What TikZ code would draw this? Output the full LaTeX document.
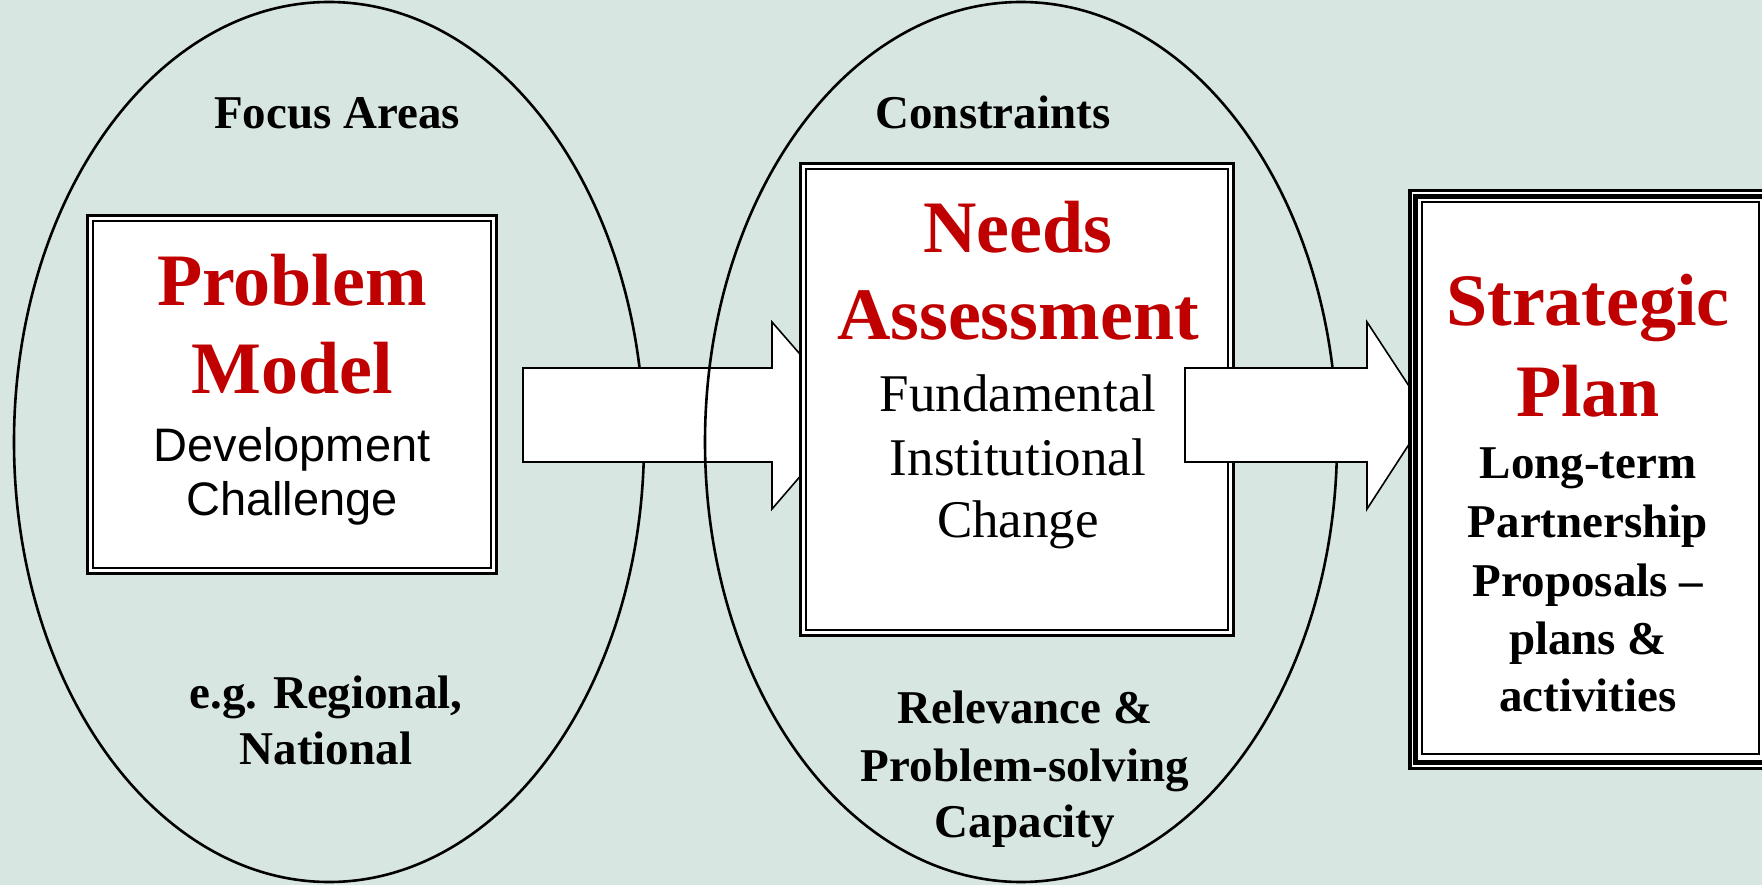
\documentclass[tikz,border=0pt]{standalone}
\usepackage{fontspec}
\setmainfont{Liberation Serif}
\newfontfamily\arialfont{Liberation Sans}
\definecolor{bgc}{HTML}{D7E6E0}
\definecolor{redt}{HTML}{C00000}
\begin{document}
\begin{tikzpicture}[x=1pt,y=-1pt,
  titletxt/.style={anchor=base,inner sep=0pt,text=redt,font=\fontsize{74}{88}\selectfont\bfseries},
  lbltxt/.style={anchor=base,inner sep=0pt,font=\fontsize{47}{57}\selectfont\bfseries},
  subtxt/.style={anchor=base,inner sep=0pt,font=\fontsize{53}{63}\selectfont},
  arialtxt/.style={anchor=base,inner sep=0pt,font=\arialfont\fontsize{47}{54}\selectfont},
  ell/.style={draw=black,line width=2.6pt},
  blockarrow/.style={fill=white,draw=black,line width=1.6pt,line join=miter},
  boxfill/.style={fill=white}]
\useasboundingbox (0,0) rectangle (1762,885);
\fill[bgc] (0,0) rectangle (1762,885);
\begin{scope}
\clip (0,0) rectangle (1762,885);
% ellipse 1
\draw[ell] (329,442) ellipse [x radius=315pt, y radius=440pt];
% arrow 1
\draw[blockarrow] (523,368) -- (772,368) -- (772,322) -- (853,415) -- (772,509) -- (772,462) -- (523,462) -- cycle;
% ellipse 2
\draw[ell] (1021,442) ellipse [x radius=316pt, y radius=440pt];
% box 1
\fill[boxfill] (86,214) rectangle (498,575);
\draw[line width=3pt] (87.5,215.5) rectangle (496.5,573.5);
\draw[line width=2pt] (93,221) rectangle (491,568);
% box 2
\fill[boxfill] (799,162) rectangle (1235,637);
\draw[line width=3pt] (800.5,163.5) rectangle (1233.5,635.5);
\draw[line width=2pt] (806,169) rectangle (1228,630);
% arrow 2
\draw[blockarrow] (1185,368) -- (1367,368) -- (1367,322) -- (1428,415) -- (1367,509) -- (1367,462) -- (1185,462) -- cycle;
% box 3
\fill[boxfill] (1408,189) rectangle (1775,770);
\draw[line width=3.5pt] (1409.75,190.75) rectangle (1775,768.25);
\draw[line width=4.5pt] (1415.5,196.5) rectangle (1767,762.5);
\draw[line width=2pt] (1421.5,202.5) rectangle (1759,754);
\end{scope}
% texts
\node[lbltxt] (fa) at (337,129) {Focus Areas};
\node[lbltxt] (cs) at (993,129) {Constraints};
\node[lbltxt] (eg1) at (326,708) {e.g. Regional,};
\node[lbltxt] (eg2) at (326,764) {National};
\node[lbltxt] (rl1) at (1025,723) {Relevance \&};
\node[lbltxt] (rl2) at (1025,781) {Problem-solving};
\node[lbltxt] (rl3) at (1025,837) {Capacity};
% box 1 text
\node[titletxt] (pm1) at (292,306) {Problem};
\node[titletxt] (pm2) at (292,393) {Model};
\node[arialtxt] (dc1) at (292,461) {Development};
\node[arialtxt] (dc2) at (292,515) {Challenge};
% box 2 text
\node[titletxt] (na1) at (1018,253) {Needs};
\node[titletxt] (na2) at (1018,340) {Assessment};
\node[subtxt] (fi1) at (1018,411) {Fundamental};
\node[subtxt] (fi2) at (1018,475) {Institutional};
\node[subtxt] (fi3) at (1018,537) {Change};
% box 3 text
\node[titletxt] (sp1) at (1588,326) {Strategic};
\node[titletxt] (sp2) at (1588,416) {Plan};
\node[lbltxt] (lt1) at (1588,478) {Long-term};
\node[lbltxt] (lt2) at (1588,537) {Partnership};
\node[lbltxt] (lt3) at (1588,596) {Proposals –};
\node[lbltxt] (lt4) at (1588,654) {plans \&};
\node[lbltxt] (lt5) at (1588,711) {activities};
\end{tikzpicture}
\end{document}
